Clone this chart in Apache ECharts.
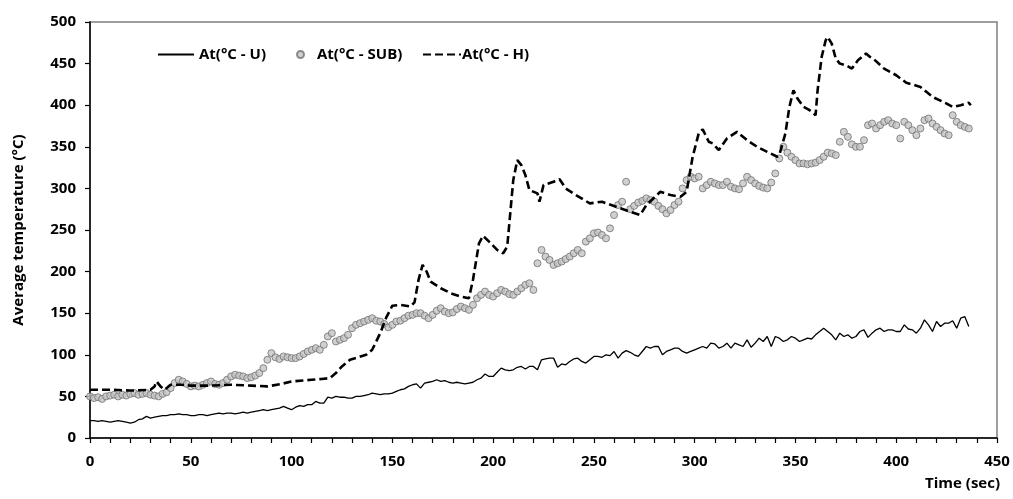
<!DOCTYPE html>
<html>
<head>
<meta charset="utf-8">
<script src="https://cdn.jsdelivr.net/npm/echarts@6/dist/echarts.min.js"></script>
<style>
  html, body { margin: 0; background: #fff; }
  #chart { width: 1013px; height: 499px; }
</style>
</head>
<body>
<div id="chart"></div>
<script>
// sampling grid (sec) for the U and SUB readings
var STEP = 2;
var time = [];
for (var k = 0; k <= 436; k += STEP) time.push(k);

// At(°C - U), one value per 2 s
var tempU = [
  21, 21, 20, 21, 20, 19, 20, 21, 20, 19, 18,
  19, 22, 23, 26, 24, 25, 26, 27, 27, 28,
  28, 29, 28, 28, 27, 27, 28, 28, 27, 28,
  29, 30, 29, 30, 30, 29, 30, 31, 30, 31,
  32, 33, 34, 33, 34, 35, 36, 38, 36, 34,
  37, 39, 38, 40, 40, 44, 42, 42, 49, 48,
  50, 49, 49, 48, 48, 50, 50, 51, 52, 54,
  53, 52, 53, 53, 54, 56, 58, 59, 62, 64,
  65, 60, 66, 67, 68, 70, 68, 69, 67, 66,
  67, 66, 65, 66, 67, 70, 72, 77, 74, 74,
  79, 84, 82, 81, 82, 85, 86, 83, 86, 86,
  82, 94, 95, 96, 96, 85, 89, 88, 92, 95,
  96, 92, 90, 94, 98, 98, 97, 100, 99, 104,
  96, 102, 105, 103, 100, 98, 104, 110, 108, 110,
  110, 100, 104, 106, 108, 108, 104, 102, 104, 106,
  108, 110, 108, 114, 113, 108, 110, 114, 108, 114,
  112, 110, 118, 109, 114, 120, 116, 122, 110, 122,
  120, 116, 118, 122, 120, 116, 118, 120, 119, 124,
  128, 132, 128, 124, 118, 126, 122, 124, 120, 122,
  128, 130, 121, 126, 130, 132, 128, 130, 130, 128,
  128, 136, 131, 130, 126, 132, 142, 136, 128, 140,
  134, 138, 138, 141, 132, 144, 146, 134
];

// At(°C - SUB), one value per 2 s
var tempSub = [
  50, 48, 49, 47, 50, 51, 52, 50, 52, 51, 53,
  54, 52, 53, 54, 52, 51, 50, 53, 55, 60,
  66, 70, 68, 65, 62, 63, 62, 64, 66, 68,
  65, 64, 66, 70, 74, 76, 75, 74, 72, 73,
  75, 78, 84, 94, 102, 97, 95, 98, 97, 96,
  96, 98, 101, 104, 106, 108, 106, 112, 122, 126,
  116, 118, 120, 124, 132, 136, 138, 140, 142, 144,
  141, 140, 137, 133, 136, 140, 141, 144, 147, 148,
  150, 150, 147, 144, 148, 153, 156, 152, 150, 151,
  155, 158, 156, 154, 160, 168, 172, 176, 172, 170,
  174, 178, 176, 173, 172, 176, 180, 184, 186, 178,
  210, 226, 218, 214, 208, 210, 212, 215, 218, 222,
  226, 222, 236, 240, 246, 247, 244, 240, 252, 268,
  280, 284, 308, 275, 279, 283, 285, 288, 286, 284,
  279, 275, 270, 274, 280, 284, 300, 310, 314, 312,
  314, 300, 304, 308, 306, 304, 304, 308, 302, 300,
  299, 306, 314, 310, 306, 303, 301, 300, 307, 318,
  336, 350, 343, 338, 334, 330, 330, 329, 330, 331,
  334, 338, 343, 342, 340, 356, 368, 362, 353, 350,
  350, 358, 376, 378, 372, 376, 380, 382, 378, 376,
  360, 380, 376, 370, 364, 372, 382, 384, 378, 374,
  370, 366, 364, 388, 380, 376, 374, 372
];

// At(°C - H), smooth curve read at its turning points
var timeH = [0, 10, 20, 30, 32, 33, 35, 37, 40, 45, 50, 60, 70, 80, 88, 95, 100, 110, 115, 119,
  122, 125, 129, 133, 137, 140, 144, 147, 150, 154, 159, 161, 163, 165, 167, 169, 174, 179, 184, 188,
  190, 193, 195, 198, 202, 205, 207, 210, 212, 214, 216, 218, 222, 223, 225, 230, 233, 236, 241, 248,
  254, 261, 268, 273, 276, 283, 288, 293, 296, 299, 302, 304, 307, 309, 312, 316, 321, 326, 331, 336,
  341, 342, 345, 347, 349, 351, 354, 357, 360, 361, 363, 365, 366, 368, 370, 372, 375, 378, 381, 384,
  385, 387, 389, 394, 400, 405, 412, 418, 425, 428, 432, 436, 437];
var tempH = [58, 58, 57, 58, 62, 68, 62, 58, 64, 64, 63, 63, 64, 63, 62, 65, 68, 70, 71, 72,
  78, 86, 94, 97, 100, 106, 126, 145, 159, 160, 158, 163, 190, 208, 200, 188, 180, 174, 170, 168,
  190, 234, 243, 236, 226, 222, 230, 310, 334, 328, 316, 298, 294, 284, 304, 308, 311, 300, 292, 282,
  284, 278, 272, 268, 280, 296, 292, 290, 296, 338, 366, 371, 356, 354, 346, 360, 368, 358, 350, 344,
  338, 340, 366, 398, 418, 408, 398, 394, 388, 418, 458, 478, 482, 474, 456, 450, 448, 444, 454, 460,
  462, 458, 455, 444, 436, 427, 422, 410, 402, 398, 400, 403, 400];

var xTicks = [0, 50, 100, 150, 200, 250, 300, 350, 400, 450];

function pairs(xs, ys) {
  return xs.map(function (x, i) { return [x, ys[i]]; });
}

var chart = echarts.init(document.getElementById('chart'));
var font = '"Open Sans", sans-serif';

var legendText = { fontFamily: font, fontWeight: 'bold', fontSize: 15, color: '#000' };
var noDot = { color: 'transparent', borderWidth: 0 };

chart.setOption({
  animation: false,
  backgroundColor: '#fff',
  grid: {
    left: 90, right: 16, top: 22, bottom: 61,
    show: true, borderColor: '#7f7f7f', borderWidth: 1.5
  },
  legend: [
    {
      data: ['At(°C - U)'], left: 152, top: 42, itemWidth: 36, itemHeight: 12, itemGap: 4,
      textStyle: legendText, itemStyle: noDot
    },
    {
      data: [{ name: 'At(°C - SUB)', icon: 'circle' }], left: 291, top: 42,
      itemWidth: 7, itemHeight: 7, textStyle: Object.assign({}, legendText, { padding: [0, 0, 0, 8] })
    },
    {
      data: ['At(°C - H)'], left: 417, top: 42, itemWidth: 38, itemHeight: 12,
      textStyle: Object.assign({}, legendText, { padding: [0, 0, 0, -4] }), itemStyle: noDot
    }
  ],
  xAxis: {
    type: 'value', min: 0, max: 450, interval: 10,
    axisLine: { show: true, lineStyle: { color: '#000', width: 1.5 } },
    axisTick: { show: true, length: 5, lineStyle: { color: '#000', width: 1.2 } },
    splitLine: { show: false },
    axisLabel: {
      margin: 16, fontFamily: font, fontWeight: 'bold', fontSize: 15, color: '#000',
      formatter: function (v) { return xTicks.indexOf(v) >= 0 ? String(v) : ''; }
    }
  },
  yAxis: {
    type: 'value', min: 0, max: 500, interval: 50,
    name: 'Average temperature (°C)', nameLocation: 'middle', nameGap: 64,
    nameTextStyle: { fontFamily: font, fontWeight: 'bold', fontSize: 15, color: '#000' },
    axisLine: { show: true, lineStyle: { color: '#000', width: 1.5 } },
    axisTick: { show: true, length: 5, lineStyle: { color: '#000', width: 1.2 } },
    splitLine: { show: false },
    axisLabel: { margin: 14, fontFamily: font, fontWeight: 'bold', fontSize: 15, color: '#000' }
  },
  graphic: [{
    type: 'text', right: 13, top: 476,
    style: { text: 'Time (sec)', fontFamily: font, fontWeight: 'bold', fontSize: 15, fill: '#000' }
  }],
  series: [
    {
      name: 'At(°C - U)', type: 'line', data: pairs(time, tempU),
      symbol: 'none', lineStyle: { color: '#000', width: 1.3 }, itemStyle: { color: '#000' }
    },
    {
      name: 'At(°C - SUB)', type: 'scatter', data: pairs(time, tempSub),
      symbol: 'circle', symbolSize: 7,
      itemStyle: { color: '#c4c4c4', borderColor: '#707070', borderWidth: 1 }
    },
    {
      name: 'At(°C - H)', type: 'line', data: pairs(timeH, tempH),
      symbol: 'none', z: 3,
      lineStyle: { color: '#000', width: 2.6, type: [8, 4] }, itemStyle: { color: '#000' }
    }
  ]
});
</script>
</body>
</html>
